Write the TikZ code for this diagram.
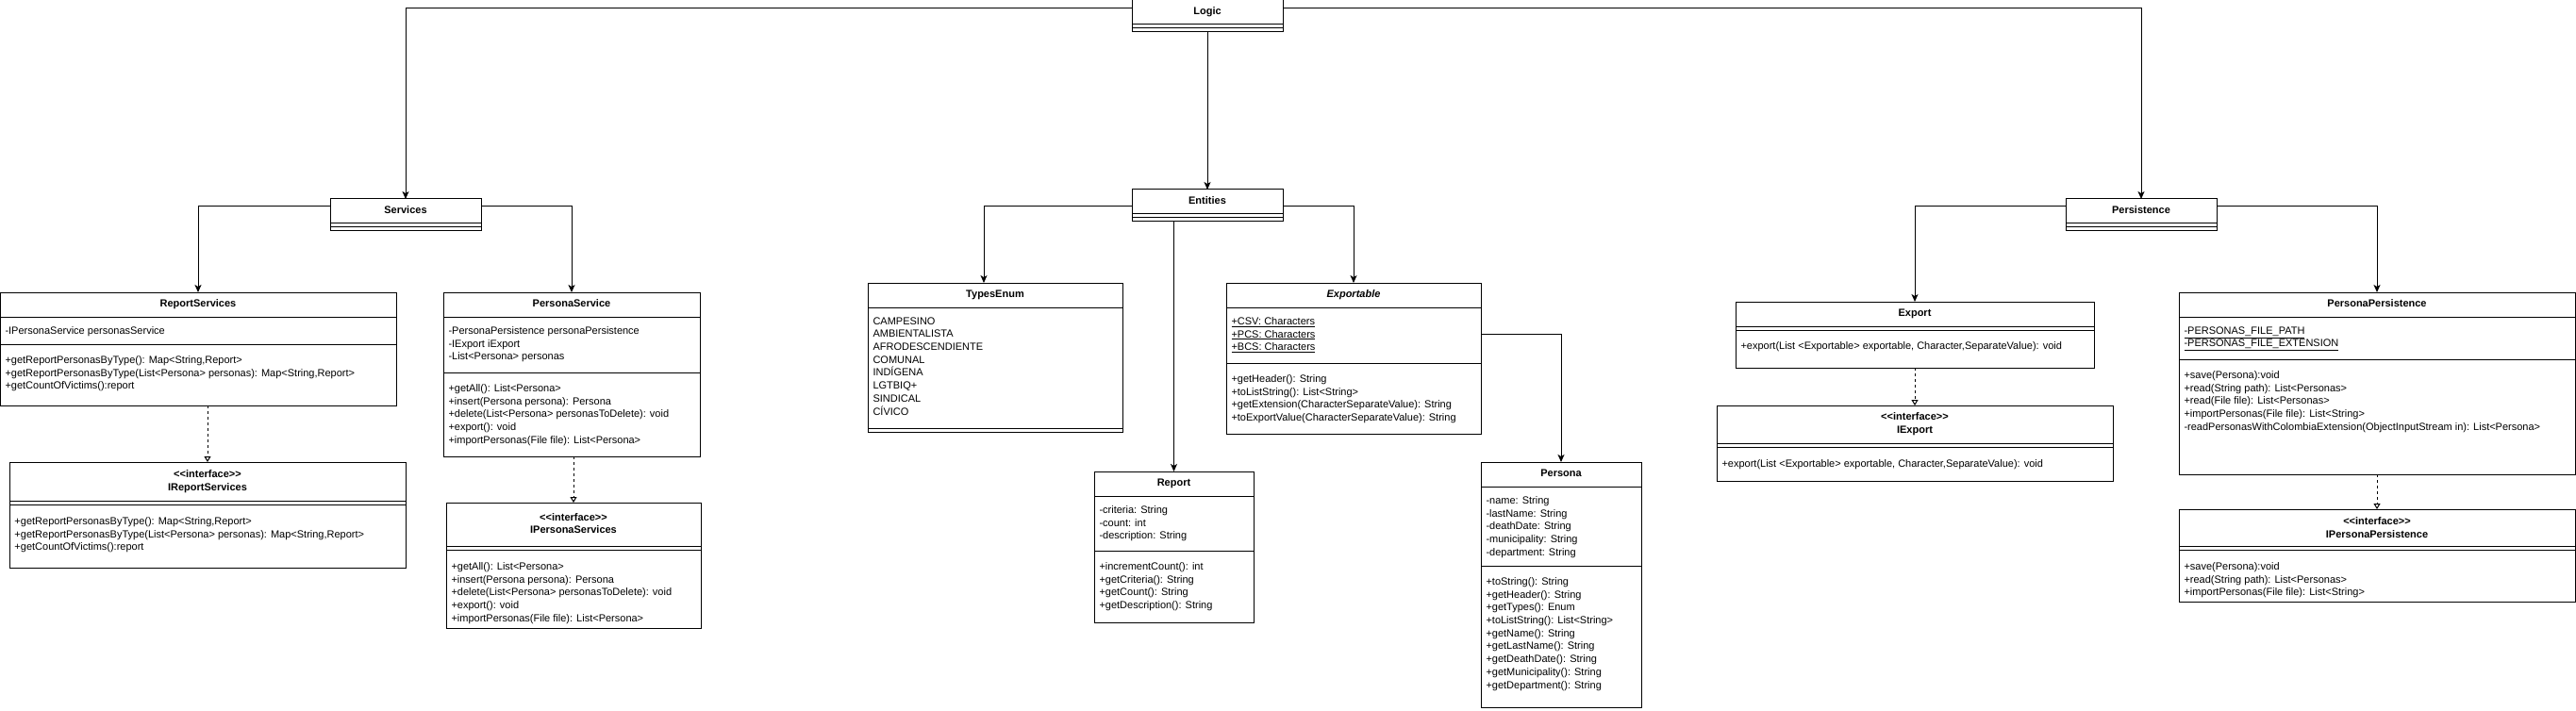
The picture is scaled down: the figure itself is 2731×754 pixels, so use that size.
\documentclass[tikz,border=0pt]{standalone}
\usepackage{fontspec}
\setmainfont{Liberation Sans}[Ligatures=TeXOff]
\usepackage{tikz}
\usetikzlibrary{
  arrows.meta,%
  calc,%
  positioning
}
\tikzset{>={Stealth[length=8pt,width=7pt,inset=2pt]}}
\tikzset{
  umlbox/.style={draw, anchor=north west, inner sep=0pt, outer sep=0pt},
  classtitle/.style={font=\fontsize{11}{13.7}\selectfont\bfseries, inner sep=0pt,
    align=center, text height=8pt, text depth=2.5pt},
  ititle/.style={font=\fontsize{11}{13.7}\selectfont\bfseries, inner sep=0pt, align=center},
  members/.style={font=\fontsize{11}{13.7}\selectfont, anchor=north west,
    inner sep=0pt, align=left},
  assoc/.style={->},
  realize/.style={-{Triangle[open,length=6pt,width=7pt]}, dash pattern=on 3pt off 3pt},
}
% separator line of a class box, #2 below its top
\newcommand{\classsep}[2]{\draw ($(#1.north west)+(0,#2)$) -- ($(#1.north east)+(0,#2)$);}

\begin{document}
\begin{tikzpicture}[x=1pt, y=-1pt, line width=1pt]
  \useasboundingbox (0,0) rectangle (2731,754);

  % packages
  \node[umlbox, minimum width=160pt, minimum height=34pt] (logic) at (1200,0) {};
  \node[classtitle] (logic-title) at ($(logic.north)+(0,13)$) {Logic};
  \classsep{logic}{26} \classsep{logic}{30}

  \node[umlbox, minimum width=160pt, minimum height=34pt] (services) at (350,211) {};
  \node[classtitle] (services-title) at ($(services.north)+(0,13)$) {Services};
  \classsep{services}{26} \classsep{services}{30}

  \node[umlbox, minimum width=160pt, minimum height=34pt] (entities) at (1200,201) {};
  \node[classtitle] (entities-title) at ($(entities.north)+(0,13)$) {Entities};
  \classsep{entities}{26} \classsep{entities}{30}

  \node[umlbox, minimum width=160pt, minimum height=34pt] (persistence) at (2190,211) {};
  \node[classtitle] (persistence-title) at ($(persistence.north)+(0,13)$) {Persistence};
  \classsep{persistence}{26} \classsep{persistence}{30}

  % services
  \node[umlbox, minimum width=420pt, minimum height=120pt] (reportservices) at (0,310) {};
  \node[classtitle] (reportservices-title) at ($(reportservices.north)+(0,13)$) {ReportServices};
  \classsep{reportservices}{26} \classsep{reportservices}{55}
  \node[members] (reportservices-attr) at ($(reportservices.north west)+(5,36)$)
    {-IPersonaService personasService};
  \node[members] (reportservices-ops) at ($(reportservices.north west)+(5,67)$)
    {+getReportPersonasByType(): Map<String,Report>\\
     +getReportPersonasByType(List<Persona> personas): Map<String,Report>\\
     +getCountOfVictims():report};

  \node[umlbox, minimum width=420pt, minimum height=112pt] (ireportservices) at (10,490) {};
  \node[ititle] (ireportservices-title) at ($(ireportservices.north)+(0,20.5)$)
    {<<interface>>\\IReportServices};
  \classsep{ireportservices}{41} \classsep{ireportservices}{45}
  \node[members] (ireportservices-ops) at ($(ireportservices.north west)+(5,58)$)
    {+getReportPersonasByType(): Map<String,Report>\\
     +getReportPersonasByType(List<Persona> personas): Map<String,Report>\\
     +getCountOfVictims():report};

  \node[umlbox, minimum width=272pt, minimum height=174pt] (personaservice) at (470,310) {};
  \node[classtitle] (personaservice-title) at ($(personaservice.north)+(0,13)$) {PersonaService};
  \classsep{personaservice}{26} \classsep{personaservice}{85}
  \node[members] (personaservice-attr) at ($(personaservice.north west)+(5,36)$)
    {-PersonaPersistence personaPersistence\\
     -IExport iExport\\
     -List<Persona> personas};
  \node[members] (personaservice-ops) at ($(personaservice.north west)+(5,97)$)
    {+getAll(): List<Persona>\\
     +insert(Persona persona): Persona\\
     +delete(List<Persona> personasToDelete): void\\
     +export(): void\\
     +importPersonas(File file): List<Persona>};

  \node[umlbox, minimum width=270pt, minimum height=133pt] (ipersonaservices) at (473,533) {};
  \node[ititle] (ipersonaservices-title) at ($(ipersonaservices.north)+(0,22)$)
    {<<interface>>\\IPersonaServices};
  \classsep{ipersonaservices}{46} \classsep{ipersonaservices}{50}
  \node[members] (ipersonaservices-ops) at ($(ipersonaservices.north west)+(5,63)$)
    {+getAll(): List<Persona>\\
     +insert(Persona persona): Persona\\
     +delete(List<Persona> personasToDelete): void\\
     +export(): void\\
     +importPersonas(File file): List<Persona>};

  % entities
  \node[umlbox, minimum width=270pt, minimum height=158pt] (typesenum) at (920,300) {};
  \node[classtitle] (typesenum-title) at ($(typesenum.north)+(0,13)$) {TypesEnum};
  \classsep{typesenum}{26} \classsep{typesenum}{154}
  \node[members] (typesenum-attr) at ($(typesenum.north west)+(5,36)$)
    {CAMPESINO\\AMBIENTALISTA\\AFRODESCENDIENTE\\COMUNAL\\INDÍGENA\\LGTBIQ+\\SINDICAL\\CÍVICO};

  \node[umlbox, minimum width=270pt, minimum height=160pt] (exportable) at (1300,300) {};
  \node[classtitle, font=\fontsize{11}{13.7}\selectfont\bfseries\itshape] (exportable-title)
    at ($(exportable.north)+(0,13)$) {Exportable};
  \classsep{exportable}{26} \classsep{exportable}{85}
  \node[members] (exportable-attr) at ($(exportable.north west)+(5,36)$)
    {\underline{+CSV: Characters}\\
     \underline{+PCS: Characters}\\
     \underline{+BCS: Characters}};
  \node[members] (exportable-ops) at ($(exportable.north west)+(5,97)$)
    {+getHeader(): String\\
     +toListString(): List<String>\\
     +getExtension(CharacterSeparateValue): String\\
     +toExportValue(CharacterSeparateValue): String};

  \node[umlbox, minimum width=169pt, minimum height=160pt] (report) at (1160,500) {};
  \node[classtitle] (report-title) at ($(report.north)+(0,13)$) {Report};
  \classsep{report}{26} \classsep{report}{84}
  \node[members] (report-attr) at ($(report.north west)+(5,36)$)
    {-criteria: String\\
     -count: int\\
     -description: String};
  \node[members] (report-ops) at ($(report.north west)+(5,96)$)
    {+incrementCount(): int\\
     +getCriteria(): String\\
     +getCount(): String\\
     +getDescription(): String};

  \node[umlbox, minimum width=170pt, minimum height=260pt] (persona) at (1570,490) {};
  \node[classtitle] (persona-title) at ($(persona.north)+(0,13)$) {Persona};
  \classsep{persona}{26} \classsep{persona}{110}
  \node[members] (persona-attr) at ($(persona.north west)+(5,36)$)
    {-name: String\\
     -lastName: String\\
     -deathDate: String\\
     -municipality: String\\
     -department: String};
  \node[members] (persona-ops) at ($(persona.north west)+(5,122)$)
    {+toString(): String\\
     +getHeader(): String\\
     +getTypes(): Enum\\
     +toListString(): List<String>\\
     +getName(): String\\
     +getLastName(): String\\
     +getDeathDate(): String\\
     +getMunicipality(): String\\
     +getDepartment(): String};

  % persistence
  \node[umlbox, minimum width=380pt, minimum height=70pt] (export) at (1840,320) {};
  \node[classtitle] (export-title) at ($(export.north)+(0,13)$) {Export};
  \classsep{export}{26} \classsep{export}{30}
  \node[members] (export-ops) at ($(export.north west)+(5,42)$)
    {+export(List <Exportable> exportable, Character,SeparateValue): void};

  \node[umlbox, minimum width=420pt, minimum height=80pt] (iexport) at (1820,430) {};
  \node[ititle] (iexport-title) at ($(iexport.north)+(0,20)$) {<<interface>>\\IExport};
  \classsep{iexport}{40} \classsep{iexport}{44}
  \node[members] (iexport-ops) at ($(iexport.north west)+(5,57)$)
    {+export(List <Exportable> exportable, Character,SeparateValue): void};

  \node[umlbox, minimum width=420pt, minimum height=193pt] (personapersistence) at (2310,310) {};
  \node[classtitle] (personapersistence-title) at ($(personapersistence.north)+(0,13)$)
    {PersonaPersistence};
  \classsep{personapersistence}{26} \classsep{personapersistence}{71}
  \node[members] (personapersistence-attr) at ($(personapersistence.north west)+(5,36)$)
    {\underline{-PERSONAS\_FILE\_PATH}\\
     \underline{-PERSONAS\_FILE\_EXTENSION}};
  \node[members] (personapersistence-ops) at ($(personapersistence.north west)+(5,83)$)
    {+save(Persona):void\\
     +read(String path): List<Personas>\\
     +read(File file): List<Personas>\\
     +importPersonas(File file): List<String>\\
     -readPersonasWithColombiaExtension(ObjectInputStream in): List<Persona>};

  \node[umlbox, minimum width=420pt, minimum height=98pt] (ipersonapersistence) at (2310,540) {};
  \node[ititle] (ipersonapersistence-title) at ($(ipersonapersistence.north)+(0,19.5)$)
    {<<interface>>\\IPersonaPersistence};
  \classsep{ipersonapersistence}{39} \classsep{ipersonapersistence}{43}
  \node[members] (ipersonapersistence-ops) at ($(ipersonapersistence.north west)+(5,56)$)
    {+save(Persona):void\\
     +read(String path): List<Personas>\\
     +importPersonas(File file): List<String>};

  % connectors
  \draw[assoc] ($(logic.north west)+(0,9)$) -| (services.north);
  \draw[assoc] ($(logic.north east)+(0,9)$) -| (persistence.north);
  \draw[assoc] (logic.south) -- (entities.north);
  \draw[assoc] ($(services.north west)+(0,8)$) -| (reportservices.north);
  \draw[assoc] ($(services.north east)+(0,8)$) -| (personaservice.north);
  \draw[assoc] ($(entities.north west)+(0,18)$) -| ([xshift=-12pt]typesenum.north);
  \draw[assoc] ($(entities.north east)+(0,18)$) -| (exportable.north);
  \draw[assoc] (entities.south -| report.north) -- (report.north);
  \draw[assoc] ($(exportable.north east)+(0,54)$) -| (persona.north);
  \draw[assoc] ($(persistence.north west)+(0,8)$) -| (export.north);
  \draw[assoc] ($(persistence.north east)+(0,8)$) -| (personapersistence.north);

  \draw[realize] (reportservices.south -| ireportservices.north) -- (ireportservices.north);
  \draw[realize] (personaservice.south -| ipersonaservices.north) -- (ipersonaservices.north);
  \draw[realize] (export.south) -- (iexport.north);
  \draw[realize] (personapersistence.south) -- (ipersonapersistence.north);
\end{tikzpicture}
\end{document}
